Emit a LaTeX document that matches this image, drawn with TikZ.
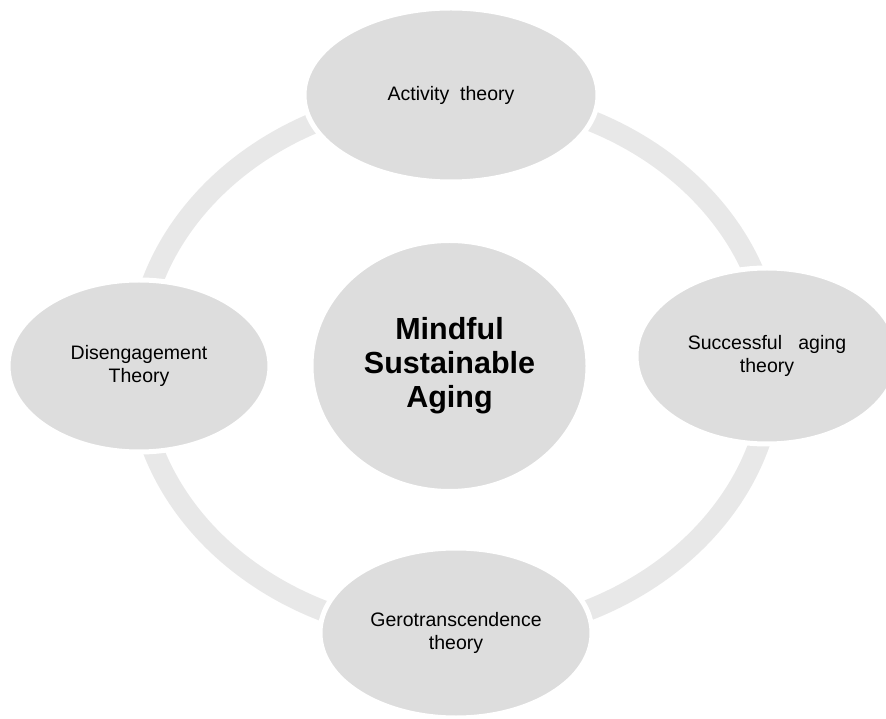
\documentclass[tikz,border=0pt]{standalone}
\usepackage{fontspec}
\setmainfont{Liberation Sans}
\usetikzlibrary{shapes.geometric}
\definecolor{ringgray}{HTML}{E8E8E8}
\definecolor{bubble}{HTML}{DDDDDD}
\tikzset{
  theory/.style={ellipse, fill=bubble, draw=white, line width=5pt, inner sep=0pt,
    align=center, font=\fontsize{19.5}{22.5}\selectfont, text=black},
  hub/.style={ellipse, fill=bubble, draw=white, line width=3pt, inner sep=0pt,
    align=center, font=\fontsize{30.5}{34}\selectfont\bfseries, text=black}
}
\begin{document}
\begin{tikzpicture}[x=1pt,y=1pt]
\useasboundingbox (0,0) rectangle (886,718);
\clip (0,0) rectangle (886,718);
\fill[white] (0,0) rectangle (886,718);
\draw[ringgray, line width=21pt] (455,353) ellipse [x radius=318, y radius=270];
\node[hub, minimum width=275pt, minimum height=249pt] (hub) at (449.5,352) {Mindful\\Sustainable\\Aging};
\node[theory, minimum width=294pt, minimum height=174pt] (act) at (451,623) {Activity\ \ theory};
\node[theory, minimum width=262pt, minimum height=176pt] (succ) at (767,362) {Successful\ \ \ aging\\theory};
\node[theory, minimum width=262pt, minimum height=172pt] (dis) at (139,352) {Disengagement\\Theory};
\node[theory, minimum width=272pt, minimum height=170pt] (gero) at (456,85) {Gerotranscendence\\theory};
\end{tikzpicture}
\end{document}
